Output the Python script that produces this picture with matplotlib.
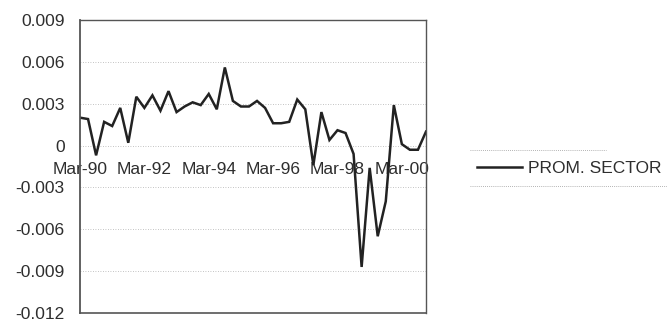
import matplotlib
matplotlib.use("Agg")
import matplotlib.pyplot as plt
from matplotlib.lines import Line2D

plt.rcParams['font.family'] = ['Liberation Sans', 'DejaVu Sans']

# Quarterly series, Mar-90 .. Dec-00
quarters = [f"{m}-{y:02d}" for y in list(range(90, 100)) + [0] for m in ("Mar", "Jun", "Sep", "Dec")]
prom_sector = [
    0.0020, 0.0019, -0.0007, 0.0017, 0.0014, 0.0027, 0.0002, 0.0035,
    0.0027, 0.0036, 0.0025, 0.0039, 0.0024, 0.0028, 0.0031, 0.0029,
    0.0037, 0.0026, 0.0056, 0.0032, 0.0028, 0.0028, 0.0032, 0.0027,
    0.0016, 0.0016, 0.0017, 0.0033, 0.0026, -0.0014, 0.0024, 0.0004,
    0.0011, 0.0009, -0.0006, -0.0087, -0.0016, -0.0065, -0.0040, 0.0029,
    0.0001, -0.0003, -0.0003, 0.0010,
]
y_ticks = [0.009, 0.006, 0.003, 0, -0.003, -0.006, -0.009, -0.012]
y_labels = ["0.009", "0.006", "0.003", "0", "-0.003", "-0.006", "-0.009", "-0.012"]
series_name = "PROM. SECTOR"

W, H = 667, 322
fig = plt.figure(figsize=(W / 100, H / 100), dpi=100)
ax = fig.add_axes([80 / W, 1 - 313 / H, (426 - 80) / W, (313 - 20) / H])

x = list(range(len(quarters)))
ax.plot(x, prom_sector, color="#222222", lw=1.8, solid_joinstyle="miter", label=series_name)

ax.set_xlim(0, len(quarters) - 1)
ax.set_ylim(-0.012, 0.009)

# faint dotted gridlines
for v in y_ticks:
    ax.axhline(v, color="#b0b0b0", lw=0.6, ls=(0, (1, 2)), zorder=0)

ax.set_yticks(y_ticks)
ax.set_yticklabels(y_labels, ha="right")
ax.tick_params(axis="y", length=0, pad=11, labelsize=12.5, labelcolor="#2e2e2e")

# category labels every two years, hanging under the zero line
label_idx = list(range(0, len(quarters), 8))
ax.spines["bottom"].set_position(("data", 0))
ax.spines["bottom"].set_color("none")
ax.set_xticks(label_idx)
ax.set_xticklabels([quarters[i] for i in label_idx])
ax.tick_params(axis="x", length=0, pad=12, labelsize=12.5, labelcolor="#2e2e2e")

for side in ("top", "right", "left"):
    ax.spines[side].set_color("#555555")
    ax.spines[side].set_linewidth(1.0)
ax.spines["left"].set_linewidth(1.3)
ax.add_line(Line2D([0, 1], [0, 0], transform=ax.transAxes, color="#555555",
                   lw=1.2, clip_on=False))

leg = fig.legend(handles=ax.get_lines()[:1], loc="center left",
                 bbox_to_anchor=(477 / W, 1 - 168 / H), frameon=False,
                 borderpad=0, borderaxespad=0, handlelength=2.6,
                 handletextpad=0.35, fontsize=12.5, labelcolor="#2e2e2e")

# thin rules above and below the legend entry
fig.add_artist(Line2D([470 / W, 606 / W], [1 - 150 / H] * 2, color="#9a9a9a",
                      lw=0.6, ls=(0, (1, 1.5))))
fig.add_artist(Line2D([470 / W, 1.0], [1 - 186 / H] * 2, color="#9a9a9a",
                      lw=0.6, ls=(0, (1, 1.5))))

fig.savefig("out.png", dpi=100)
